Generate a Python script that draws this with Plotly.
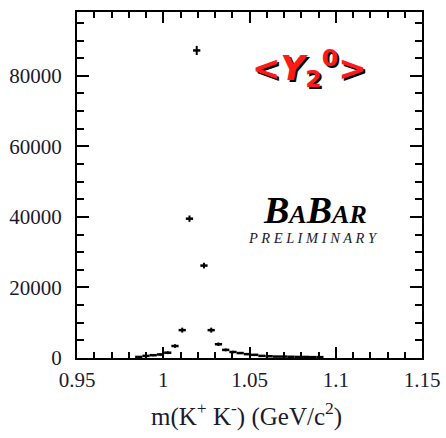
import plotly.graph_objects as go

# data: m(K+K-) bin centres (GeV/c^2), counts, half bin width, stat errors
mass = [0.9858, 0.9900, 0.9942, 0.9984, 1.0026, 1.0068, 1.0110, 1.0152, 1.0194,
        1.0236, 1.0278, 1.0320, 1.0362, 1.0404, 1.0446, 1.0488, 1.0530, 1.0572,
        1.0614, 1.0656, 1.0698, 1.0740, 1.0782, 1.0824, 1.0866, 1.0908]
counts = [300, 600, 800, 1000, 1500, 3400, 7900, 39500, 87200,
          26200, 7900, 3900, 2300, 1700, 1400, 1100, 900, 600,
          500, 400, 400, 350, 300, 300, 250, 250]
half_width = [0.0021] * len(mass)
stat_err = [200, 250, 300, 350, 400, 500, 700, 900, 1300,
            800, 700, 500, 400, 350, 300, 300, 250, 250,
            200, 200, 200, 200, 200, 200, 200, 200]

x_ticks = [0.95, 1.0, 1.05, 1.1, 1.15]
x_labels = ["0.95", "1", "1.05", "1.1", "1.15"]
y_ticks = [0, 20000, 40000, 60000, 80000]
y_labels = ["0", "20000", "40000", "60000", "80000"]

fig = go.Figure()
fig.add_trace(go.Scatter(
    x=mass, y=counts, mode="markers",
    marker=dict(size=1, color="black"),
    error_x=dict(type="data", array=half_width, color="black", thickness=2.5, width=0),
    error_y=dict(type="data", array=stat_err, color="black", thickness=2, width=0),
    showlegend=False,
))

axis_font = dict(family="Liberation Serif", size=21, color="#1a1a2e")
fig.update_xaxes(
    range=[0.95, 1.15], tickmode="array", tickvals=x_ticks, ticktext=x_labels,
    ticks="inside", ticklen=11, tickwidth=2, tickcolor="black",
    minor=dict(dtick=0.01, ticks="inside", ticklen=6, tickwidth=2, tickcolor="black"),
    showline=True, linecolor="black", linewidth=2, mirror="allticks",
    showgrid=False, zeroline=False, tickfont=axis_font, ticklabelstandoff=2,
    automargin=False,
)
fig.update_yaxes(
    range=[0, 98100], tickmode="array", tickvals=y_ticks, ticktext=y_labels,
    ticks="inside", ticklen=12, tickwidth=2, tickcolor="black",
    minor=dict(dtick=5000, ticks="inside", ticklen=7, tickwidth=2, tickcolor="black"),
    showline=True, linecolor="black", linewidth=2, mirror="allticks",
    showgrid=False, zeroline=False, tickfont=axis_font, ticklabelstandoff=9,
    automargin=False,
)

# x-axis title
fig.add_annotation(x=0.49, y=0, xref="paper", yref="paper", xanchor="center", yanchor="top",
                   yshift=-38, showarrow=False,
                   text="m(K<sup>+</sup> K<sup>-</sup>) (GeV/c<sup>2</sup>)",
                   font=dict(family="Liberation Serif", size=25, color="#1a1a2e"))

label = "&lt;<i>Y</i><sub>2</sub><sup>0</sup>&gt;"
for dx, dy, col in [(2, -2, "black"), (0, 0, "#ff1a1a")]:
    fig.add_annotation(x=0.675, y=0.838, xref="paper", yref="paper", xanchor="center", yanchor="middle",
                       text="<b>" + label + "</b>", showarrow=False, xshift=dx, yshift=dy,
                       font=dict(family="DejaVu Sans", size=34, color=col))

fig.add_annotation(x=0.69, y=0.428, xref="paper", yref="paper", xanchor="center", yanchor="middle",
                   text="<b><i>B<span style='font-size:26px'>A</span>B<span style='font-size:26px'>AR</span></i></b>",
                   showarrow=False, font=dict(family="Liberation Serif", size=38, color="black"))
fig.add_annotation(x=0.683, y=0.347, xref="paper", yref="paper", xanchor="center", yanchor="middle",
                   text="<i>P R E L I M I N A R Y</i>",
                   showarrow=False, font=dict(family="Liberation Serif", size=14.5, color="#1a1a2e"))

fig.update_layout(
    width=446, height=438,
    margin=dict(l=77, r=24, t=12, b=80),
    paper_bgcolor="white", plot_bgcolor="white",
)
fig.write_html("out.html")
